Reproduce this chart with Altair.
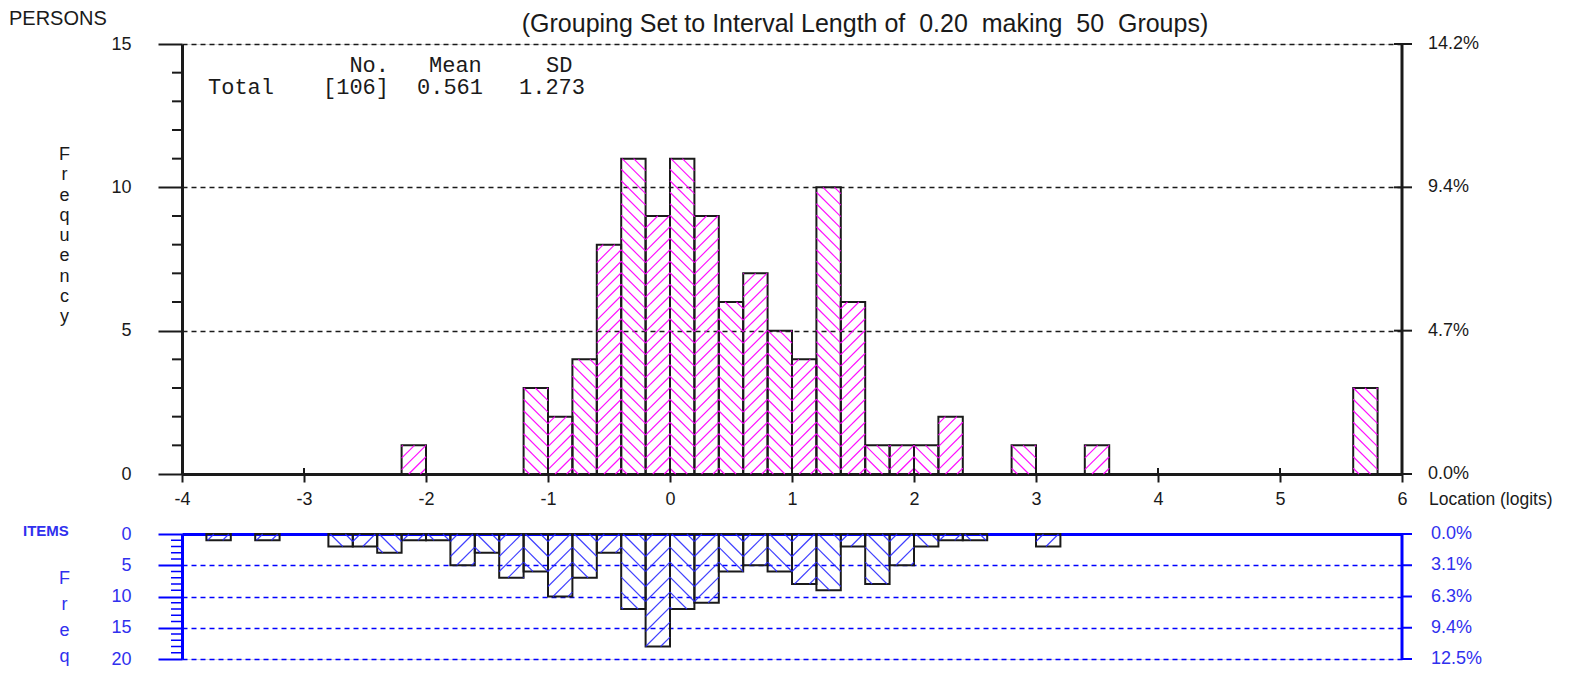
import altair as alt
import pandas as pd

# ---------------- data ----------------
bin_width = 0.2
x_min, x_max = -4, 6

# 50 groups of width 0.20 from -4 to 6
person_counts = [0, 0, 0, 0, 0, 0, 0, 0, 0, 1,
                 0, 0, 0, 0, 3, 2, 4, 8, 11, 9,
                 11, 9, 6, 7, 5, 4, 10, 6, 1, 1,
                 1, 2, 0, 0, 1, 0, 0, 1, 0, 0,
                 0, 0, 0, 0, 0, 0, 0, 0, 3, 0]
item_counts = [0, 1, 0, 1, 0, 0, 2, 2, 3, 1,
               1, 5, 3, 7, 6, 10, 7, 3, 12, 18,
               12, 11, 6, 5, 6, 8, 9, 2, 8, 5,
               2, 1, 1, 0, 0, 2, 0, 0, 0, 0,
               0, 0, 0, 0, 0, 0, 0, 0, 0, 0]

x_tick_values = list(range(-4, 7))
person_tick_values = [0, 5, 10, 15]
item_tick_values = [0, 5, 10, 15, 20]
person_minor_ticks = [v for v in range(0, 16) if v % 5]
item_minor_ticks = [v for v in range(0, 21) if v % 5]

title_text = ("(Grouping Set to Interval Length of\u00a0\u00a00.20\u00a0\u00a0making"
              "\u00a0\u00a050\u00a0\u00a0Groups)")
stats_header = ["No.", "Mean", "SD"]
stats_values = ["Total", "[106]", "0.561", "1.273"]
person_axis_letters = list("Frequency")
item_axis_letters = list("Freq")

person_total = sum(person_counts)
item_total = sum(item_counts)

# ---------------- layout / style ----------------
W = 1220
H_TOP = 430
H_BOT = 125
GAP = 60
PX_X = W / (x_max - x_min)
PX_TOP = H_TOP / 15
PX_BOT = H_BOT / 20

BLACK = "#1a1a1a"
BLUE = "#0000ff"
BLUE_TXT = "#3030ee"
PINK = "#ff00ff"
HATCH_BLUE = "#2a2aff"
FONT = "Liberation Sans"
MONO = "Liberation Mono"


def bars_frame(counts):
    rows = []
    for i, c in enumerate(counts):
        if c > 0:
            x0 = x_min + i * bin_width
            rows.append({"x0": x0, "x1": x0 + bin_width, "count": c, "base": 0})
    return pd.DataFrame(rows)


def hatch_frame(counts, px_y, spacing, even_rising):
    """45-degree hatch segments inside each bar, derived from the counts."""
    rows = []
    w = bin_width * PX_X
    for i, c in enumerate(counts):
        if c <= 0:
            continue
        x0 = x_min + i * bin_width
        h = c * px_y
        rising = (i % 2 == 0) == even_rising
        if rising:
            cc = -w + spacing / 2
            while cc < h:
                t0, t1 = max(0.0, -cc), min(w, h - cc)
                if t1 - t0 > 0.5:
                    rows.append({"x": x0 + t0 / PX_X, "x2": x0 + t1 / PX_X,
                                 "y": (cc + t0) / px_y, "y2": (cc + t1) / px_y})
                cc += spacing
        else:
            cc = spacing / 2
            while cc < h + w:
                t0, t1 = max(0.0, cc - h), min(w, cc)
                if t1 - t0 > 0.5:
                    rows.append({"x": x0 + t0 / PX_X, "x2": x0 + t1 / PX_X,
                                 "y": (cc - t0) / px_y, "y2": (cc - t1) / px_y})
                cc += spacing
    return pd.DataFrame(rows)


def txt(text, x, y, **kw):
    return alt.Chart(pd.DataFrame({"t": [text]})).mark_text(**kw).encode(
        x=alt.value(x), y=alt.value(y), text="t:N")


xs = alt.Scale(domain=[x_min, x_max], nice=False, zero=False)
ys_top = alt.Scale(domain=[0, 15], nice=False)
ys_bot = alt.Scale(domain=[0, 20], nice=False, reverse=True)

# ---------------- top panel (persons) ----------------
x_axis_top = alt.Axis(values=x_tick_values, orient="bottom", title="", grid=False,
                      domainColor=BLACK, domainWidth=3, tickColor=BLACK, tickWidth=2,
                      tickSize=8, labelFont=FONT, labelFontSize=18, labelColor=BLACK,
                      labelPadding=8, labelExpr="'' + datum.value", labelFlush=False)
y_axis_top = alt.Axis(values=person_tick_values, orient="left", grid=True, gridColor=BLACK,
                      gridDash=[5, 4], gridWidth=1.3, domainColor=BLACK, domainWidth=3,
                      tickColor=BLACK, tickWidth=2, tickSize=24, labelFont=FONT,
                      labelFontSize=18, labelColor=BLACK, labelPadding=27,
                      title=person_axis_letters, titleAngle=0, titleX=-118, titleY=101.5,
                      titleAlign="center", titleBaseline="top", titleFont=FONT,
                      titleFontSize=18, titleFontWeight="normal", titleColor=BLACK,
                      titleLineHeight=20.25)


def XT(field):
    return alt.X(field, scale=xs, axis=x_axis_top)


def YT(field):
    return alt.Y(field, scale=ys_top, axis=y_axis_top)


p_bars = bars_frame(person_counts)
p_hatch = hatch_frame(person_counts, PX_TOP, 11.5, False)

top_bars = alt.Chart(p_bars).mark_rect(fillOpacity=0, stroke=BLACK, strokeWidth=2).encode(
    x=XT("x0:Q"), x2="x1:Q", y=YT("count:Q"), y2="base:Q")
top_hatch = alt.Chart(p_hatch).mark_rule(color=PINK, strokeWidth=1.15, opacity=0.95).encode(
    x=XT("x:Q"), x2="x2:Q", y=YT("y:Q"), y2="y2:Q")
top_minor = alt.Chart(pd.DataFrame({"v": person_minor_ticks})).mark_rule(
    color=BLACK, strokeWidth=2).encode(x=alt.value(-10), x2=alt.value(0), y=YT("v:Q"))
top_xup = alt.Chart(pd.DataFrame({"v": x_tick_values})).mark_rule(
    color=BLACK, strokeWidth=2).encode(
    x=XT("v:Q"), y=alt.value(H_TOP - 6), y2=alt.value(H_TOP))
top_right = alt.Chart(pd.DataFrame({"v": [0]})).mark_rule(color=BLACK, strokeWidth=3).encode(
    x=alt.value(W), y=alt.value(0), y2=alt.value(H_TOP))
top_rticks = alt.Chart(pd.DataFrame({"v": person_tick_values})).mark_rule(
    color=BLACK, strokeWidth=2).encode(x=alt.value(W - 8), x2=alt.value(W + 10), y=YT("v:Q"))
top_rlabels = alt.Chart(pd.DataFrame({"v": person_tick_values})).transform_calculate(
    lab=f"format(datum.v / {person_total}, '.1%')").mark_text(
    align="left", baseline="middle", font=FONT, fontSize=18, color=BLACK).encode(
    x=alt.value(W + 26), y=YT("v:Q"), text="lab:N")

top_texts = [
    txt("PERSONS", -173, -19, align="left", baseline="alphabetic", font=FONT,
        fontSize=20, color=BLACK),
    txt(title_text, 683, -12, align="center", baseline="alphabetic", font=FONT,
        fontSize=25, color=BLACK),
    txt("Location (logits)", W + 27, H_TOP + 26, align="left", baseline="middle",
        font=FONT, fontSize=17.5, color=BLACK),
    txt(stats_header[0], 207, 21, align="right", baseline="middle", font=MONO,
        fontSize=22, color=BLACK),
    txt(stats_header[1], 247, 21, align="left", baseline="middle", font=MONO,
        fontSize=22, color=BLACK),
    txt(stats_header[2], 364, 21, align="left", baseline="middle", font=MONO,
        fontSize=22, color=BLACK),
    txt(stats_values[0], 26, 43, align="left", baseline="middle", font=MONO,
        fontSize=22, color=BLACK),
    txt(stats_values[1], 141, 43, align="left", baseline="middle", font=MONO,
        fontSize=22, color=BLACK),
    txt(stats_values[2], 235, 43, align="left", baseline="middle", font=MONO,
        fontSize=22, color=BLACK),
    txt(stats_values[3], 337, 43, align="left", baseline="middle", font=MONO,
        fontSize=22, color=BLACK),
]

top = alt.layer(top_bars, top_hatch, top_minor, top_xup, top_right, top_rticks,
                top_rlabels, *top_texts).properties(width=W, height=H_TOP)

# ---------------- bottom panel (items) ----------------
x_axis_bot = alt.Axis(orient="top", labels=False, ticks=False, grid=False, title="",
                      domainColor=BLUE, domainWidth=3)
y_axis_bot = alt.Axis(values=item_tick_values, orient="left", grid=True, gridColor=BLUE,
                      gridDash=[5, 4], gridWidth=1.3, domainColor=BLUE, domainWidth=3,
                      tickColor=BLUE, tickWidth=2, tickSize=24, labelFont=FONT,
                      labelFontSize=18, labelColor=BLUE_TXT, labelPadding=27,
                      title=item_axis_letters, titleAngle=0, titleX=-118, titleY=35,
                      titleAlign="center", titleBaseline="top", titleFont=FONT,
                      titleFontSize=18, titleFontWeight="normal", titleColor=BLUE_TXT,
                      titleLineHeight=26)


def XB(field):
    return alt.X(field, scale=xs, axis=x_axis_bot)


def YB(field):
    return alt.Y(field, scale=ys_bot, axis=y_axis_bot)


i_bars = bars_frame(item_counts)
i_hatch = hatch_frame(item_counts, PX_BOT, 15, True)

bot_bars = alt.Chart(i_bars).mark_rect(fillOpacity=0, stroke=BLACK, strokeWidth=2).encode(
    x=XB("x0:Q"), x2="x1:Q", y=YB("count:Q"), y2="base:Q")
bot_hatch = alt.Chart(i_hatch).mark_rule(color=HATCH_BLUE, strokeWidth=1.15, opacity=0.9).encode(
    x=XB("x:Q"), x2="x2:Q", y=YB("y:Q"), y2="y2:Q")
bot_minor = alt.Chart(pd.DataFrame({"v": item_minor_ticks})).mark_rule(
    color=BLUE, strokeWidth=1.5).encode(x=alt.value(-11), x2=alt.value(0), y=YB("v:Q"))
bot_right = alt.Chart(pd.DataFrame({"v": [0]})).mark_rule(color=BLUE, strokeWidth=3).encode(
    x=alt.value(W), y=alt.value(0), y2=alt.value(H_BOT))
bot_rticks = alt.Chart(pd.DataFrame({"v": item_tick_values})).mark_rule(
    color=BLUE, strokeWidth=2).encode(x=alt.value(W), x2=alt.value(W + 10), y=YB("v:Q"))
bot_rlabels = alt.Chart(pd.DataFrame({"v": item_tick_values})).transform_calculate(
    lab=f"format(datum.v / {item_total}, '.1%')").mark_text(
    align="left", baseline="middle", font=FONT, fontSize=18, color=BLUE_TXT).encode(
    x=alt.value(W + 29), y=YB("v:Q"), text="lab:N")
bot_items = txt("ITEMS", -159, -3, align="left", baseline="middle", font=FONT,
                fontSize=15, fontWeight="bold", color=BLUE_TXT)

bottom = alt.layer(bot_bars, bot_hatch, bot_minor, bot_right, bot_rticks, bot_rlabels,
                   bot_items).properties(width=W, height=H_BOT)

chart = alt.vconcat(top, bottom, spacing=GAP, bounds="flush").properties(
    padding=0).configure_view(strokeWidth=0).configure(font=FONT)

chart.save("out.html", embed_options={"renderer": "svg", "actions": False})
